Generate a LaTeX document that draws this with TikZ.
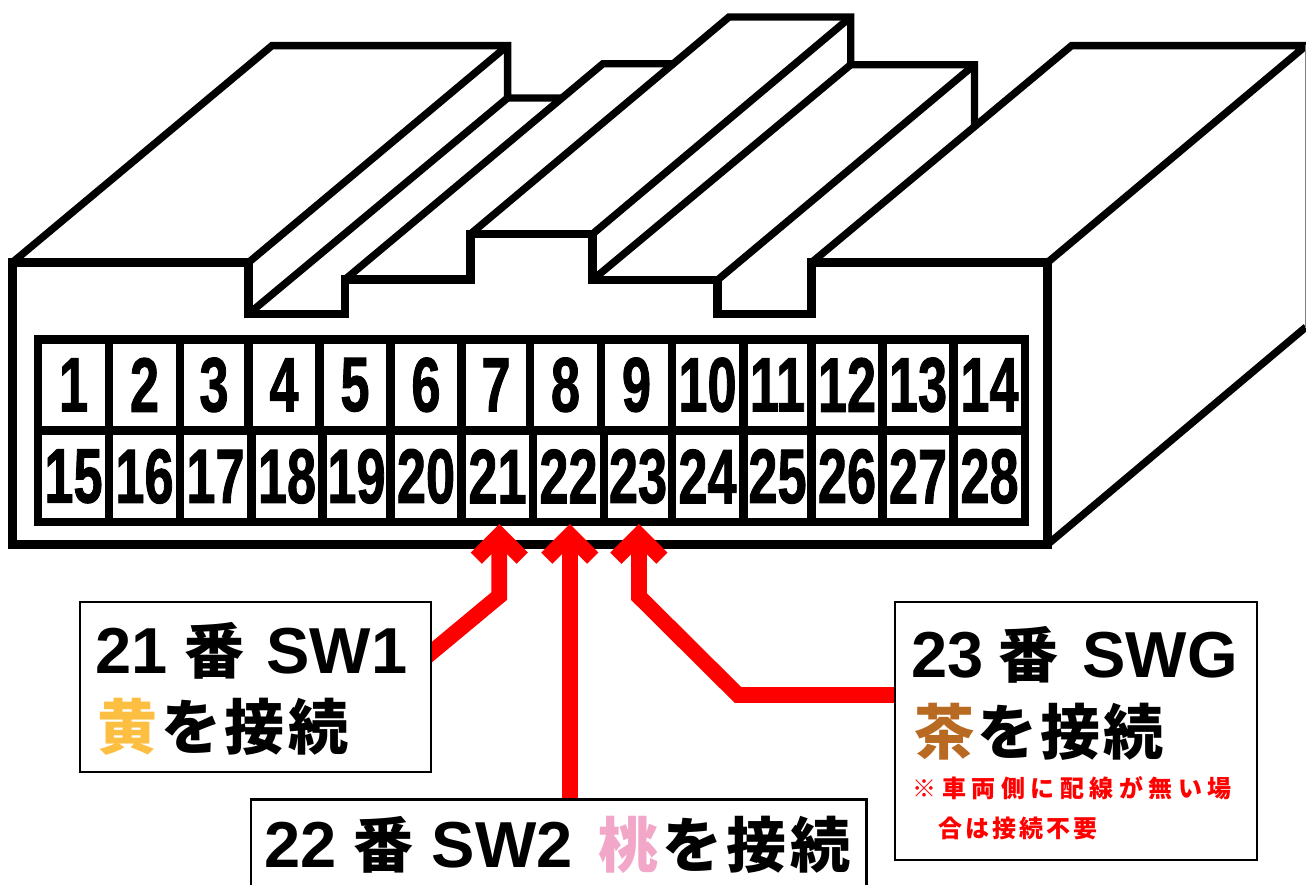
\documentclass[tikz,border=0pt]{standalone}
\usepackage{fontspec}
\usepackage{graphicx}
\usetikzlibrary{arrows.meta,calc}
\setmainfont{Liberation Sans}
\newfontfamily\lat{Liberation Sans Bold}
\newfontfamily\pinf[FakeBold=1.5]{Liberation Sans Bold}
\newfontfamily\jp{Noto Sans CJK JP}
\newcommand\cj[2][64pt]{\makebox[#1]{#2}}
\newcommand\pinfont{\fontsize{77}{77}\selectfont\pinf}
\newcommand\bigfont{\fontsize{65}{65}\selectfont\lat}
\newcommand\jpfont{\fontsize{60}{60}\selectfont\jp\bfseries}
\definecolor{wirered}{HTML}{FF0000}
\definecolor{kiiro}{HTML}{FDBF41}
\definecolor{momo}{HTML}{F2A7C8}
\definecolor{cha}{HTML}{B86A22}
\pgfdeclarelayer{front}
\pgfsetlayers{main,front}
\tikzset{
  body/.style={line width=8.4pt,line join=miter,miter limit=1.5},
  edge/.style={line width=7.4pt,line join=miter,miter limit=1.5},
  pincell/.style={fill=white,inner sep=0pt,outer sep=0pt,rectangle},
  labelbox/.style={draw=black,fill=white,line width=2.6pt,rectangle,inner sep=0pt,outer sep=0pt},
  txt/.style={anchor=base west,inner sep=0pt,outer sep=0pt},
  wire/.style={draw=wirered,line width=15.8pt,line join=miter,miter limit=4,
    -{Straight Barb[length=23pt,width=46pt,line width=15.8pt]}},
}
\begin{document}
\begin{tikzpicture}[x=1pt,y=-1pt]
\useasboundingbox (0,0) rectangle (1306,884);
\clip (0,0) rectangle (1306,884);
\fill[white] (0,0) rectangle (1306,884);
% top surfaces
\draw[edge] (12.3,262.5)--(272,45.6)--(507.6,45.6)--(507.6,98)--(561,98);
\draw[edge] (248.5,262.5)--(507.6,45.6);
\draw[edge] (248.5,314)--(507.6,98);
\draw[edge] (345,279.5)--(603,63.7)--(672,63.7);
\draw[edge] (470.5,234)--(729,17)--(850.7,17)--(850.7,64.7)--(974.5,64.7)--(974.5,126.6);
\draw[edge] (592.5,234)--(850.7,17);
\draw[edge] (592.5,280)--(850.7,64.7);
\draw[edge] (717.5,280)--(974.5,64.7);
\draw[edge] (811.6,262.5)--(1071.6,45.6)--(1306,45.6)--(1047.5,262.5);
\draw[edge] (1047.5,544.5)--(1306,327);
\draw[gray,line width=1pt] (1305.5,45)--(1305.5,328);
% front face
\draw[body] (12.3,262.5)--(248.5,262.5)--(248.5,314)--(345,314)--(345,279.5)--(470.5,279.5)
  --(470.5,234)--(592.5,234)--(592.5,280)--(717.5,280)--(717.5,314)--(811.6,314)--(811.6,262.5)
  --(1047.5,262.5)--(1047.5,544.5)--(12.3,544.5)--cycle;
% pin block
\fill[black] (34,335) rectangle (1029,525.7);
\foreach \n/\l/\r in {1/42/105,2/113/176,3/184/244,4/253/315,5/324/386,6/395/457,7/466/526,8/534/597,9/605/668,10/676/739,11/748/807,12/816/878,13/887/949,14/958/1021}
  \node[pincell,minimum width={(\r-\l)*1pt},minimum height=82.3pt] (cell\n) at ({(\l+\r)/2},384.85)
    {\raisebox{-4pt}{\pinfont\scalebox{0.68}[1]{\n}}};
\foreach \n/\l/\r in {15/42/105,16/113/176,17/184/247,18/256/318,19/327/386,20/395/457,21/466/529,22/537/600,23/608/668,24/676/739,25/748/807,26/816/878,27/887/949,28/958/1021}
  \node[pincell,minimum width={(\r-\l)*1pt},minimum height=82.7pt] (cell\n) at ({(\l+\r)/2},476.35)
    {\raisebox{-3.5pt}{\pinfont\scalebox{0.68}[1]{\n}}};
% label boxes
\begin{pgfonlayer}{front}
\node[labelbox,minimum width=351pt,minimum height=170pt] (box21) at (255.5,687) {};
\node[labelbox,minimum width=615.5pt,minimum height=120pt] (box22) at (558.75,859.6) {};
\node[labelbox,minimum width=362pt,minimum height=258pt] (box23) at (1076,731) {};
% texts
\node[txt] (t21a) at (95,673) {\bigfont 21\hspace{17.5pt}{\jpfont\cj[60pt]{番}}\hspace{21.5pt}SW1};
\node[txt] (t21b) at (95,749) {\jpfont\cj{\color{kiiro}黄}\cj{を}\cj{接}\cj{続}};
\node[txt] (t23a) at (911,677) {\bigfont 23\hspace{15.5pt}{\jpfont\cj[60pt]{番}}\hspace{23.5pt}SWG};
\node[txt] (t23b) at (912.5,754) {\jpfont\cj[63pt]{\color{cha}茶}\cj[63pt]{を}\cj[63pt]{接}\cj[63pt]{続}};
\node[txt,text=wirered] (t23c) at (910.2,797.5) {\fontsize{24}{24}\selectfont\jp\bfseries
  \cj[29.5pt]{※}\cj[29.5pt]{車}\cj[29.5pt]{両}\cj[29.5pt]{側}\cj[29.5pt]{に}\cj[29.5pt]{配}\cj[29.5pt]{線}\cj[29.5pt]{が}\cj[29.5pt]{無}\cj[29.5pt]{い}\cj[29.5pt]{場}};
\node[txt,text=wirered] (t23d) at (936.4,837.5) {\fontsize{24}{24}\selectfont\jp\bfseries
  \cj[27.2pt]{合}\cj[27.2pt]{は}\cj[27.2pt]{接}\cj[27.2pt]{続}\cj[27.2pt]{不}\cj[27.2pt]{要}};
\node[txt] (t22) at (264.5,867) {\bigfont 22\hspace{16.5pt}{\jpfont\cj[60pt]{番}}\hspace{18.5pt}SW2\hspace{24pt}{\jpfont\cj{\color{momo}桃}\cj{を}\cj{接}\cj{続}}};
\end{pgfonlayer}
% connectors
\coordinate (tip21) at (499.3,524);
\coordinate (tip22) at (569.8,524);
\coordinate (tip23) at (638.9,524);
\coordinate (bend21) at (499.3,596);
\coordinate (bend23a) at (738,695);
\coordinate (bend23b) at (638.9,596.5);
\draw[wire] ($(bend21)!1.2!([yshift=34.2pt]box21.east)$) -- (bend21) -- (tip21);
\draw[wire] (box22.north -| tip22) -- (tip22);
\draw[wire] ([yshift=36pt]box23.west) -- (bend23a) -- (bend23b) -- (tip23);
\end{tikzpicture}
\end{document}
